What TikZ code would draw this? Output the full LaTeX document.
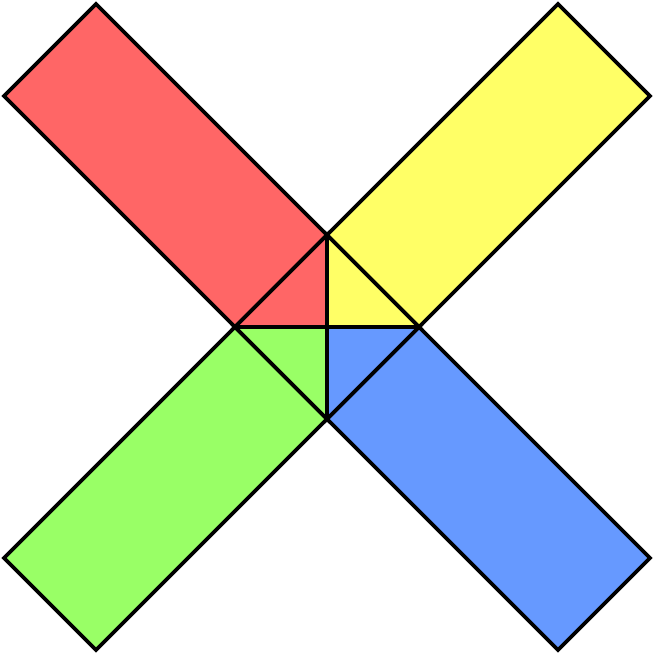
\documentclass[tikz,border=0pt]{standalone}
\usepackage{xcolor}
\usepackage{tikz}
\usetikzlibrary{calc}
\definecolor{armred}{HTML}{FF6666}
\definecolor{armyellow}{HTML}{FFFF66}
\definecolor{armgreen}{HTML}{99FF66}
\definecolor{armblue}{HTML}{6699FF}

\begin{document}
\begin{tikzpicture}[
		x=1pt,y=-1pt,
		line join=miter,
		arm/.style={draw=black, line width=3.6pt},
		wedge/.style={draw=black, line width=3.6pt}
	]
	\useasboundingbox (0,0) rectangle (654,655);
	
	% Central diamond
	\coordinate (mid)   at (327,327);
	\coordinate (dtop)  at (327,235);
	\coordinate (dright) at (419,327);
	\coordinate (dbot)  at (327,419);
	\coordinate (dleft) at (235,327);
	
	% Arms
	\draw[arm, fill=armred]    (4,96) -- (96,4) -- (dtop) -- (dleft) -- cycle;
	\draw[arm, fill=armyellow] (558,4) -- (650,96) -- (dright) -- (dtop) -- cycle;
	\draw[arm, fill=armblue]   (650,558) -- (558,650) -- (dbot) -- (dright) -- cycle;
	\draw[arm, fill=armgreen]  (96,650) -- (4,558) -- (dleft) -- (dbot) -- cycle;
	
	% Inner wedges
	\draw[wedge, fill=armred]    (dleft) -- (dtop) -- (mid) -- cycle;
	\draw[wedge, fill=armyellow] (dtop) -- (dright) -- (mid) -- cycle;
	\draw[wedge, fill=armblue]   (dright) -- (dbot) -- (mid) -- cycle;
	\draw[wedge, fill=armgreen]  (dbot) -- (dleft) -- (mid) -- cycle;
	
\end{tikzpicture}
\end{document}
